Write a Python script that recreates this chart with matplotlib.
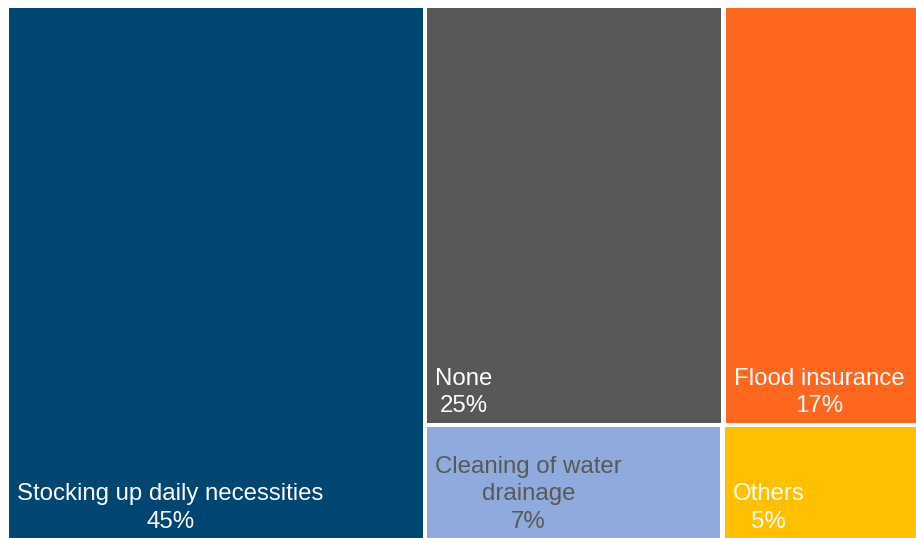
import matplotlib
matplotlib.use("Agg")
import matplotlib.pyplot as plt
from matplotlib.patches import Rectangle

plt.rcParams['font.family'] = ['Liberation Sans', 'DejaVu Sans']

categories = ["Stocking up daily necessities", "None", "Flood insurance",
              "Cleaning of water\ndrainage", "Others"]
# shares (%) estimated from tile areas; labels show the rounded values
values = [45.4, 25.4, 16.6, 7.0, 4.6]
pct_labels = ["45%", "25%", "17%", "7%", "5%"]
colors = ["#004672", "#58585A", "#FF671F", "#8FAADC", "#FFC000"]
text_colors = ["white", "white", "white", "#595959", "white"]


def layout(vals, x, y, w, h):
    """First item as a full-height column, the rest in rows of two (top-down)."""
    total = sum(vals)
    rects = []
    w0 = w * vals[0] / total
    rects.append((x, y, w0, h))
    rest = vals[1:]
    rx, rw = x + w0, w - w0
    rtotal = sum(rest)
    cy = y
    for i in range(0, len(rest), 2):
        row = rest[i:i + 2]
        rh = h * sum(row) / rtotal
        cx = rx
        for v in row:
            cw = rw * v / sum(row)
            rects.append((cx, cy, cw, rh))
            cx += cw
        cy += rh
    return rects


W, H = 916, 538
fig = plt.figure(figsize=(W / 100, H / 100), dpi=100)
ax = fig.add_axes([0, 0, 1, 1])
ax.set_xlim(0, W)
ax.set_ylim(H, 0)
ax.axis('off')

gap = 4.5
rects = layout(values, 6.8, 5.8, 911.5, 535)
for (x, y, w, h), lab, pct, c, tc in zip(rects, categories, pct_labels, colors, text_colors):
    ax.add_patch(Rectangle((x + gap / 2, y + gap / 2), w - gap, h - gap,
                           facecolor=c, edgecolor='none'))
    ax.text(x + gap / 2 + 8, y + h - gap / 2 - 6, f"{lab}\n{pct}",
            ha='left', va='bottom', multialignment='center',
            color=tc, fontsize=17.3, linespacing=1.3)

fig.savefig("out.png", dpi=100)
